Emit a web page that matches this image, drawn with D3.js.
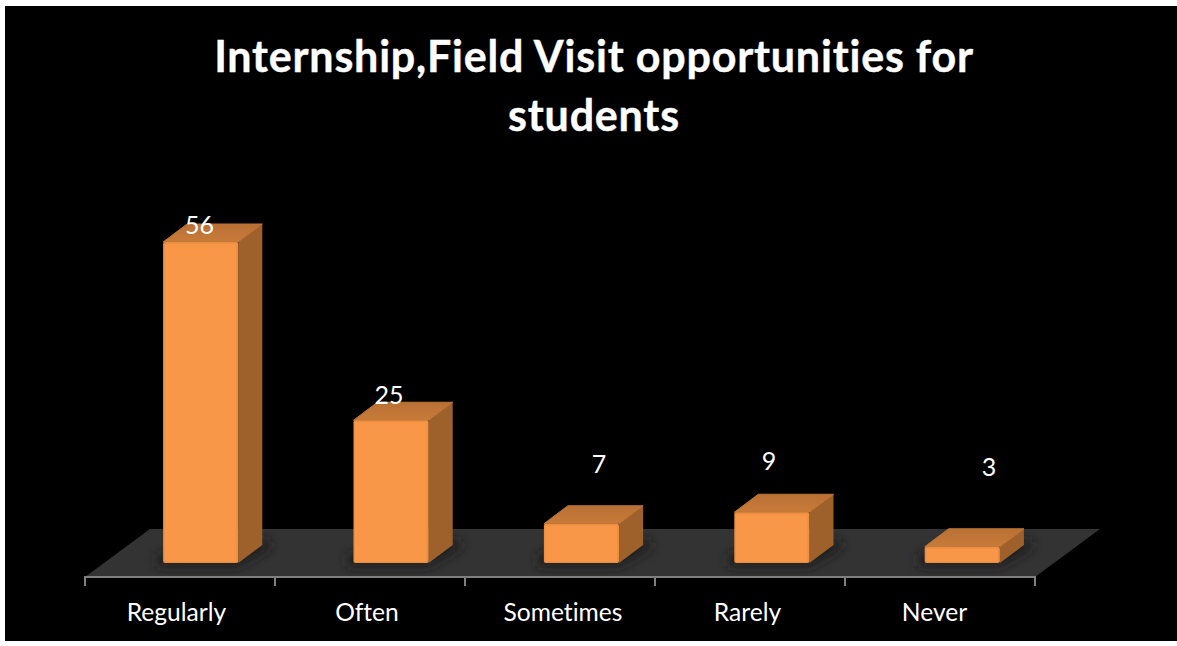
<!DOCTYPE html>
<html><head><meta charset="utf-8">
<script src="https://cdn.jsdelivr.net/npm/d3@7/dist/d3.min.js"></script>
<style>html,body{margin:0;padding:0;background:#fff;overflow:hidden}svg{display:block}text{font-family:Lato,"Open Sans",sans-serif;font-variant-ligatures:none}</style>
</head><body><div id="c"></div>
<script>
const categories = ["Regularly","Often","Sometimes","Rarely","Never"];
const values = [56,25,7,9,3];
const titleLines = ["Internship,Field Visit opportunities for","students"];

const W=1177,H=646;
const svg=d3.select("#c").append("svg").attr("width",W).attr("height",H);
const defs=svg.append("defs");
const blur=defs.append("filter").attr("id","sh").attr("x","-40%").attr("y","-40%").attr("width","180%").attr("height","180%");
blur.append("feGaussianBlur").attr("stdDeviation",6);
const topGrad=defs.append("linearGradient").attr("id","topG").attr("x1",0).attr("y1",1).attr("x2",0).attr("y2",0);
topGrad.append("stop").attr("offset",0).attr("stop-color","#c87c3a");
topGrad.append("stop").attr("offset",1).attr("stop-color","#b97034");

svg.append("rect").attr("x",5).attr("y",6).attr("width",W-5).attr("height",635).attr("fill","#000");

const axisY=577, dx=24, dy=18, inset=20.5;
const x=d3.scaleBand().domain(categories).range([85,1037]).paddingInner(0.605).paddingOuter(0.3025);
const tickScale=d3.scaleLinear().domain([0,categories.length]).range([85,1035]);
const y=d3.scaleLinear().domain([0,60]).range([564,564-60*5.75]);
const baseY=563;

// floor
const line=d3.line();
svg.append("path").attr("d",line([[85,axisY],[150,529],[1100,529],[1035,axisY]])+"Z").attr("fill","#333333");

// soft shadows on floor
svg.append("g").selectAll("path").data(categories).join("path")
  .attr("d",c=>{const l=x(c)+inset,r=l+x.bandwidth();return line([[l-6,566],[r,566],[r+dx+8,548],[r+dx+8,541],[r,541],[l-6,555]])+"Z";})
  .attr("fill","#1c1c1c").attr("filter","url(#sh)");

// axis
const ax=svg.append("g").attr("stroke","#7f7f7f").attr("stroke-width",2).attr("fill","none");
ax.append("path").attr("d",line([[84,axisY],[1036,axisY]]));
ax.selectAll("line").data(d3.range(categories.length+1)).join("line")
  .attr("x1",d=>tickScale(d)).attr("x2",d=>tickScale(d)).attr("y1",axisY).attr("y2",axisY+9);

// bars
const bars=svg.append("g").selectAll("g").data(categories).join("g");
bars.each(function(c,i){
  const g=d3.select(this), l=x(c)+inset, r=l+x.bandwidth(), b=baseY, t=y(values[i]);
  g.append("path").attr("d",line([[r,t],[r+dx,t-dy],[r+dx,b-dy],[r,b]])+"Z").attr("fill","#9e612c");
  g.append("path").attr("d",line([[l,t],[l+dx,t-dy],[r+dx,t-dy],[r,t]])+"Z").attr("fill","url(#topG)").attr("stroke","#bf7536").attr("stroke-width",1).attr("stroke-linejoin","round");
  g.append("rect").attr("x",l).attr("y",t).attr("width",r-l).attr("height",b-t).attr("rx",2).attr("fill","#ec8f42");
  g.append("rect").attr("x",l+1.5).attr("y",t+2).attr("width",r-l-3.5).attr("height",b-t-3.5).attr("fill","#f99748");
});

// value labels
const valueX=[199.5,389,599,769,989], valueY=[234,404,473,470,476];
svg.append("g").selectAll("text").data(values).join("text")
  .attr("x",(d,i)=>valueX[i]).attr("y",(d,i)=>valueY[i])
  .attr("text-anchor","middle").attr("fill","#fff").attr("font-size",25).text(d=>d);

// category labels
const labelX=[176.5,367,563,747.5,934.5];
svg.append("g").selectAll("text").data(categories).join("text")
  .attr("x",(c,i)=>labelX[i])
  .attr("y",621).attr("text-anchor","middle").attr("fill","#fff").attr("font-size",24.6).text(c=>c);

// title
svg.append("g").selectAll("text").data(titleLines).join("text")
  .attr("x",594).attr("y",(d,i)=>72+i*59).attr("text-anchor","middle").attr("fill","#fff")
  .attr("font-size",43).attr("font-weight",700).attr("letter-spacing",0.8).attr("stroke","#fff").attr("stroke-width",0.4).text(d=>d);
</script></body></html>
